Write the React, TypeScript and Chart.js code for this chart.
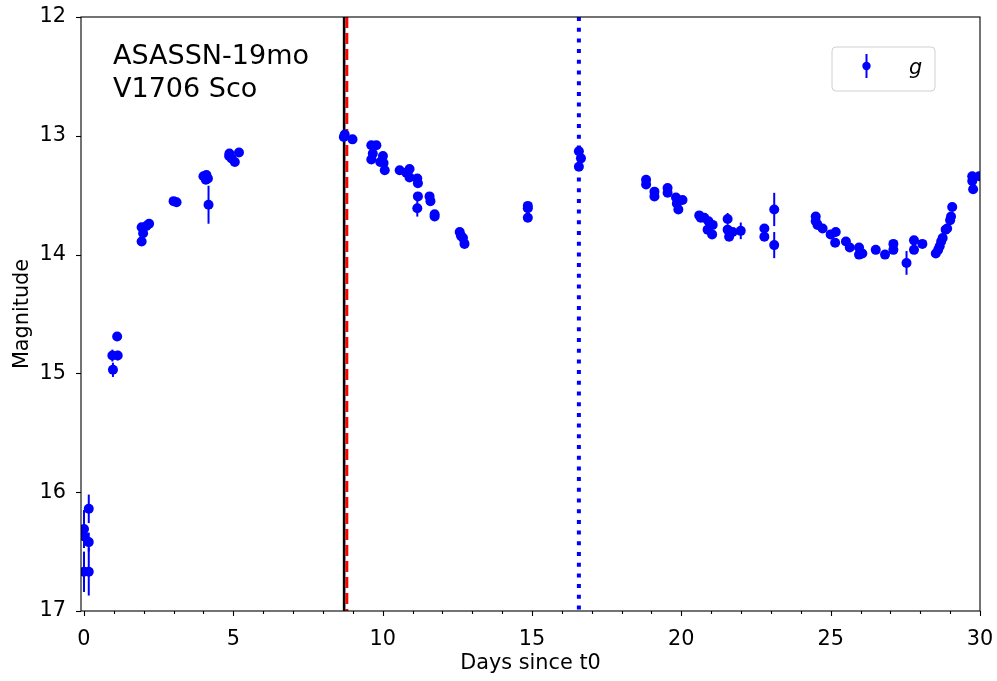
import React, { useEffect, useRef } from "react";
import { Chart, registerables } from "chart.js";

Chart.register(...registerables);

// g-band photometry: days since t0, magnitude, 1-sigma error
const days = [
  0.0, 0.0, 0.0, 0.16, 0.16, 0.16,
  0.95, 0.97, 1.11, 1.13,
  1.93, 1.93, 1.98, 2.09, 2.18,
  3.0, 3.1,
  4.0, 4.1, 4.15, 4.08, 4.17,
  4.86, 4.87, 4.94, 5.05, 5.19,
  8.7, 8.73, 8.99,
  9.62, 9.79, 9.67, 9.62, 9.92, 10.01, 10.03, 10.07,
  10.57, 10.79, 10.9, 10.9,
  11.16, 11.18, 11.18, 11.16,
  11.57, 11.6, 11.74, 11.74,
  12.58, 12.62, 12.69, 12.74,
  14.86, 14.86, 14.86,
  16.57, 16.64, 16.57,
  18.82, 18.82, 19.1, 19.1, 19.54, 19.54,
  19.82, 19.85, 19.9, 20.04,
  20.6, 20.65, 20.77, 20.91, 20.88, 21.05, 21.03,
  21.55, 21.55, 21.6, 21.72, 21.99,
  22.78, 22.78, 23.11, 23.11,
  24.5, 24.5, 24.56, 24.73,
  25.0, 25.17, 25.15, 25.51, 25.64,
  25.95, 25.95, 26.06, 26.51, 26.82,
  27.1, 27.1, 27.54, 27.79, 27.79, 28.07,
  28.52, 28.6, 28.65, 28.7, 28.75, 28.85, 28.9, 29.0, 29.03, 29.07,
  29.74, 29.74, 29.77, 29.97,
];

const mags = [
  16.31, 16.37, 16.67, 16.14, 16.42, 16.67,
  14.85, 14.97, 14.69, 14.85,
  13.89, 13.77, 13.82, 13.76, 13.74,
  13.55, 13.56,
  13.34, 13.33, 13.36, 13.37, 13.58,
  13.17, 13.15, 13.19, 13.22, 13.14,
  13.01, 12.99, 13.03,
  13.08, 13.08, 13.15, 13.2, 13.22, 13.17, 13.23, 13.29,
  13.29, 13.31, 13.28, 13.35,
  13.36, 13.4, 13.51, 13.61,
  13.51, 13.55, 13.66, 13.68,
  13.81, 13.84, 13.86, 13.91,
  13.59, 13.61, 13.69,
  13.13, 13.19, 13.26,
  13.37, 13.41, 13.47, 13.51, 13.44, 13.48,
  13.52, 13.57, 13.62, 13.54,
  13.67, 13.69, 13.69, 13.72, 13.79, 13.75, 13.83,
  13.7, 13.79, 13.85, 13.81, 13.8,
  13.78, 13.85, 13.62, 13.92,
  13.68, 13.72, 13.75, 13.78,
  13.83, 13.81, 13.9, 13.89, 13.94,
  13.94, 14.0, 13.99, 13.96, 14.0,
  13.91, 13.96, 14.07, 13.88, 13.96, 13.91,
  13.99, 13.96, 13.93, 13.89, 13.86, 13.79, 13.78, 13.71, 13.68, 13.6,
  13.34, 13.38, 13.45, 13.34,
];

const magErrs = [
  0.16, 0.05, 0.17, 0.12, 0.08, 0.2,
  0.05, 0.06, 0.02, 0.04,
  0.02, 0.02, 0.02, 0.02, 0.02,
  0.02, 0.02,
  0.02, 0.02, 0.02, 0.02, 0.16,
  0.02, 0.02, 0.02, 0.02, 0.02,
  0.02, 0.02, 0.02,
  0.02, 0.02, 0.02, 0.02, 0.02, 0.02, 0.02, 0.02,
  0.02, 0.02, 0.02, 0.02,
  0.02, 0.02, 0.02, 0.07,
  0.02, 0.02, 0.02, 0.02,
  0.02, 0.02, 0.02, 0.02,
  0.02, 0.02, 0.02,
  0.02, 0.02, 0.02,
  0.02, 0.02, 0.02, 0.02, 0.02, 0.02,
  0.02, 0.02, 0.02, 0.02,
  0.02, 0.02, 0.02, 0.02, 0.02, 0.02, 0.02,
  0.05, 0.02, 0.02, 0.02, 0.07,
  0.03, 0.02, 0.14, 0.11,
  0.03, 0.02, 0.02, 0.02,
  0.02, 0.02, 0.02, 0.02, 0.02,
  0.02, 0.02, 0.02, 0.02, 0.02,
  0.02, 0.02, 0.1, 0.02, 0.02, 0.02,
  0.02, 0.02, 0.02, 0.02, 0.02, 0.02, 0.02, 0.02, 0.02, 0.02,
  0.02, 0.02, 0.02, 0.02,
];

// Reference epochs marked with vertical lines (days since t0)
const peakEpoch = 8.71; // solid black
const specEpoch = 8.8; // dashed red
const laterEpoch = 16.57; // dotted blue

const xMin = -0.1;
const xMax = 30;
const yTop = 12;
const yBottom = 17;
const xMajorTicks = [0, 5, 10, 15, 20, 25, 30];
const xMinorTicks = Array.from({ length: 31 }, (_, i) => i);
const yTicks = [12, 13, 14, 15, 16, 17];

const titleLines = ["ASASSN-19mo", "V1706 Sco"];
const legendLabel = "g";

const BLUE = "#0000ff";
const FONT = "'DejaVu Sans', 'Liberation Sans', sans-serif";

const vline = (x: number) => [
  { x, y: yTop },
  { x, y: yBottom },
];

const errorBarPlugin = {
  id: "errorBars",
  beforeDatasetsDraw(chart: any) {
    const { ctx, chartArea, scales } = chart;
    const meta = chart.getDatasetMeta(0);
    if (!meta || meta.hidden) return;
    ctx.save();
    ctx.beginPath();
    ctx.rect(chartArea.left, chartArea.top, chartArea.right - chartArea.left, chartArea.bottom - chartArea.top);
    ctx.clip();
    ctx.strokeStyle = BLUE;
    ctx.lineWidth = 2;
    const data = chart.data.datasets[0].data as any[];
    data.forEach((d) => {
      const px = scales.x.getPixelForValue(d.x);
      const y1 = scales.y.getPixelForValue(d.y - d.err);
      const y2 = scales.y.getPixelForValue(d.y + d.err);
      ctx.beginPath();
      ctx.moveTo(px, y1);
      ctx.lineTo(px, y2);
      ctx.stroke();
    });
    ctx.restore();
  },
};

const framePlugin = {
  id: "frameAndDecor",
  afterDraw(chart: any) {
    const { ctx, chartArea, scales } = chart;
    const { left, right, top, bottom } = chartArea;
    ctx.save();
    // axes frame
    ctx.strokeStyle = "#000";
    ctx.lineWidth = 1.1;
    ctx.strokeRect(left, top, right - left, bottom - top);

    // tick marks
    ctx.lineWidth = 1.1;
    xMinorTicks.forEach((v) => {
      const px = Math.round(scales.x.getPixelForValue(v)) + 0.5;
      const len = xMajorTicks.includes(v) ? 5 : 3;
      ctx.beginPath();
      ctx.moveTo(px, bottom);
      ctx.lineTo(px, bottom + len);
      ctx.stroke();
    });
    yTicks.forEach((v) => {
      const py = Math.round(scales.y.getPixelForValue(v)) + 0.5;
      ctx.beginPath();
      ctx.moveTo(left, py);
      ctx.lineTo(left - 5, py);
      ctx.stroke();
    });

    // object names
    ctx.fillStyle = "#000";
    ctx.font = `27px ${FONT}`;
    ctx.textBaseline = "alphabetic";
    ctx.textAlign = "left";
    titleLines.forEach((t, i) => {
      ctx.fillText(t, left + 32, top + 47 + i * 33);
    });

    // legend
    const lx = 832;
    const ly = 47;
    const lw = 103;
    const lh = 44;
    const r = 4;
    ctx.beginPath();
    ctx.moveTo(lx + r, ly);
    ctx.lineTo(lx + lw - r, ly);
    ctx.arcTo(lx + lw, ly, lx + lw, ly + r, r);
    ctx.lineTo(lx + lw, ly + lh - r);
    ctx.arcTo(lx + lw, ly + lh, lx + lw - r, ly + lh, r);
    ctx.lineTo(lx + r, ly + lh);
    ctx.arcTo(lx, ly + lh, lx, ly + lh - r, r);
    ctx.lineTo(lx, ly + r);
    ctx.arcTo(lx, ly, lx + r, ly, r);
    ctx.closePath();
    ctx.fillStyle = "rgba(255,255,255,0.8)";
    ctx.fill();
    ctx.strokeStyle = "#d0d0d0";
    ctx.lineWidth = 1;
    ctx.stroke();

    ctx.strokeStyle = BLUE;
    ctx.lineWidth = 2;
    ctx.beginPath();
    ctx.moveTo(866.5, 54);
    ctx.lineTo(866.5, 78);
    ctx.stroke();
    ctx.fillStyle = BLUE;
    ctx.beginPath();
    ctx.arc(866.5, 66, 4.2, 0, Math.PI * 2);
    ctx.fill();

    ctx.fillStyle = "#000";
    ctx.font = `italic 20.8px ${FONT}`;
    ctx.fillText(legendLabel, 909, 74);
    ctx.restore();
  },
};

export default function App() {
  const canvasRef = useRef<HTMLCanvasElement | null>(null);

  useEffect(() => {
    const canvas = canvasRef.current;
    if (!canvas) return;
    const points = days.map((x, i) => ({ x, y: mags[i], err: magErrs[i] }));

    const chart = new Chart(canvas, {
      type: "scatter",
      data: {
        datasets: [
          {
            label: legendLabel,
            data: points,
            pointRadius: 5,
            pointHoverRadius: 5,
            pointBackgroundColor: BLUE,
            pointBorderWidth: 0,
            borderColor: BLUE,
            showLine: false,
            order: 1,
          },
          {
            type: "line",
            label: "peak",
            data: vline(peakEpoch),
            borderColor: "#000000",
            borderWidth: 2.6,
            pointRadius: 0,
            order: 3,
          },
          {
            type: "line",
            label: "spec",
            data: vline(specEpoch),
            borderColor: "#ff0000",
            borderWidth: 3,
            borderDash: [11, 5],
            pointRadius: 0,
            order: 2,
          },
          {
            type: "line",
            label: "later",
            data: vline(laterEpoch),
            borderColor: BLUE,
            borderWidth: 4,
            borderDash: [4, 6.7],
            borderCapStyle: "butt",
            pointRadius: 0,
            order: 2,
          },
        ] as any,
      },
      options: {
        animation: false,
        responsive: false,
        devicePixelRatio: 1,
        events: [],
        layout: { padding: { left: 0, right: 17, top: 17, bottom: 0 } },
        plugins: {
          legend: { display: false },
          tooltip: { enabled: false },
        },
        scales: {
          x: {
            type: "linear",
            min: xMin,
            max: xMax,
            grid: { display: false },
            border: { display: false },
            afterBuildTicks: (axis: any) => {
              axis.ticks = xMinorTicks.map((v) => ({ value: v }));
            },
            afterFit: (axis: any) => {
              axis.height = 70;
              axis.paddingLeft = 0;
              axis.paddingRight = 0;
            },
            ticks: {
              autoSkip: false,
              maxRotation: 0,
              padding: 8,
              color: "#000",
              font: { family: FONT, size: 20.8 },
              callback: (v: any) => (xMajorTicks.includes(Number(v)) ? String(v) : ""),
            },
            title: {
              display: true,
              text: "Days since t0",
              color: "#000",
              font: { family: FONT, size: 20.8 },
              padding: { top: 0, bottom: 5 },
            },
          },
          y: {
            type: "linear",
            reverse: true,
            min: yTop,
            max: yBottom,
            grid: { display: false },
            border: { display: false },
            afterBuildTicks: (axis: any) => {
              axis.ticks = yTicks.map((v) => ({ value: v }));
            },
            afterFit: (axis: any) => {
              axis.width = 81;
              axis.paddingTop = 0;
              axis.paddingBottom = 0;
            },
            ticks: {
              autoSkip: false,
              padding: 7,
              color: "#000",
              font: { family: FONT, size: 20.8 },
              callback: (v: any) => String(v),
            },
            title: {
              display: true,
              text: "Magnitude",
              color: "#000",
              font: { family: FONT, size: 20.8 },
              padding: { top: 10, bottom: 0 },
            },
          },
        },
      },
      plugins: [errorBarPlugin, framePlugin],
    });

    return () => chart.destroy();
  }, []);

  return (
    <div style={{ position: "fixed", left: 0, top: 0, width: 997, height: 681, background: "#fff" }}>
      <canvas ref={canvasRef} width={997} height={681} />
    </div>
  );
}
